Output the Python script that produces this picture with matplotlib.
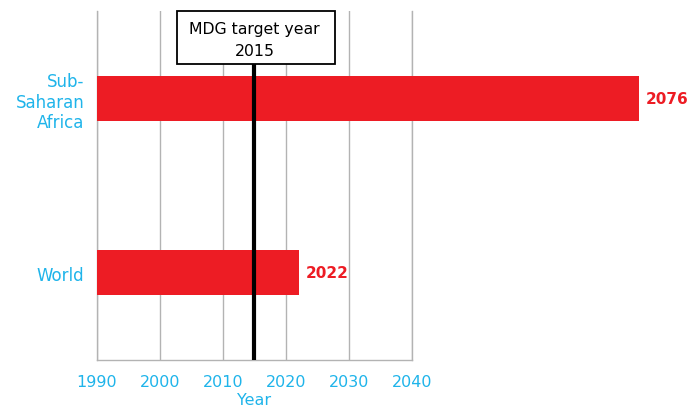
import matplotlib.pyplot as plt
from matplotlib.patches import Rectangle

regions = ['World', 'Sub-\nSaharan\nAfrica']
start_year = 1990
end_years = [2022, 2076]
target_year = 2015
xticks = [1990, 2000, 2010, 2020, 2030, 2040]

red = '#ed1c24'
blue = '#1fb4ea'
grey = '#b3b3b3'

plt.rcParams['font.family'] = ['DejaVu Sans']

fig = plt.figure(figsize=(6.9, 4.1), dpi=100)
ax = fig.add_axes([97 / 690, 49 / 410, 315 / 690, 349 / 410])

ypos = list(range(len(regions)))
widths = [e - start_year for e in end_years]
ax.barh(ypos, widths, left=start_year, height=0.257, color=red, zorder=3, clip_on=False)
for y, e in zip(ypos, end_years):
    ax.text(e + 1.1, y, str(e), color=red, fontsize=11, fontweight='bold',
            va='center', ha='left', zorder=5)

ax.set_xlim(1990, 2040)
ax.set_ylim(-0.5, 1.5)
ax.set_xticks(xticks)
ax.set_yticks(ypos)
ax.set_yticklabels(regions, color=blue, fontsize=12, linespacing=1.2)
ax.tick_params(axis='x', colors=blue, labelsize=11.5, length=0, pad=10)
ax.tick_params(axis='y', length=0, pad=9)
ax.set_xlabel('Year', color=blue, fontsize=11.5, labelpad=2.5)

ax.grid(axis='x', color=grey, lw=1, zorder=0)
ax.spines['top'].set_visible(False)
for s in ['left', 'bottom', 'right']:
    ax.spines[s].set_color(grey)
    ax.spines[s].set_linewidth(1)

# target year marker
box_bottom = 0.848
ax.axvline(target_year, ymin=0, ymax=box_bottom, color='black', lw=3, zorder=4)
bt = ax.get_xaxis_transform()
ax.add_patch(Rectangle((2002.7, box_bottom), 25.1, 1 - box_bottom, transform=bt,
                       facecolor='white', edgecolor='black', lw=1.3, zorder=6, clip_on=False))
ax.text(target_year, (1 + box_bottom) / 2 - 0.006, 'MDG target year\n2015', transform=bt,
        ha='center', va='center', fontsize=11.3, linespacing=1.6, zorder=7)

fig.savefig('out.png', dpi=100)
